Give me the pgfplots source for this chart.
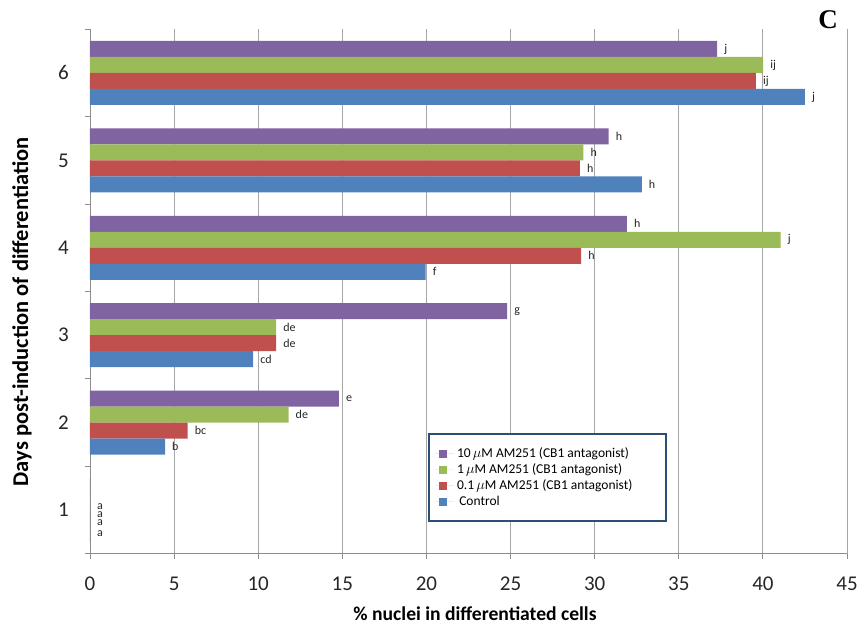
\documentclass[border=0pt]{standalone}
\usepackage{fontspec}
\setmainfont{Carlito}
\newfontfamily\timesfont{Liberation Serif}
\usepackage{pgfplots}
\usepackage{pgfplotstable}
\pgfplotsset{compat=1.18}

\definecolor{cblue}{HTML}{4F81BD}
\definecolor{cred}{HTML}{C0504D}
\definecolor{cgreen}{HTML}{9BBB59}
\definecolor{cpurple}{HTML}{8064A2}
\definecolor{axgray}{HTML}{8C8C8C}
\definecolor{gridgray}{HTML}{A6A6A6}
\definecolor{legblue}{HTML}{2C4D75}

% day, value, significance letter, vertical label offset (pt)
\pgfplotstableread{
day val lab dy
1 0     a 0
2 4.46  b 0
3 9.7   cd 0
4 19.95 f 0
5 32.8  h 0
6 42.5  j 0
}\control
\pgfplotstableread{
day val lab dy
1 0     a -5
2 5.8   bc 0
3 11.07 de 0
4 29.2  h 0
5 29.12 h 0
6 39.58 ij 0
}\lowdose
\pgfplotstableread{
day val lab dy
1 0     a -13
2 11.8  de 0
3 11.07 de 0
4 41.05 j 0
5 29.33 h 0
6 40.02 ij 0
}\middose
\pgfplotstableread{
day val lab dy
1 0     a -21
2 14.8  e 0
3 24.8  g 0
4 31.92 h 0
5 30.83 h 0
6 37.28 j 0
}\highdose

\begin{document}
\begin{tikzpicture}
\begin{axis}[
  at={(0,0)}, anchor=south west,
  scale only axis, width=757pt, height=524.5pt,
  xmin=0, xmax=45, ymin=0.5, ymax=6.5,
  xtick={0,5,...,45}, ytick={1,...,6},
  minor ytick={0.5,1.5,...,6.5},
  axis x line*=bottom, axis y line*=left,
  axis line style={draw=axgray, line width=0.9pt, -},
  xmajorgrids, grid style={draw=gridgray, line width=0.9pt},
  tick align=outside, major tick length=5pt, minor tick length=5pt,
  major y tick style={draw=none},
  minor y tick style={draw=axgray, line width=0.9pt},
  major x tick style={draw=axgray, line width=0.9pt},
  /pgf/number format/assume math mode=true,
  tick label style={font=\fontsize{21}{21}\selectfont, text=black!85},
  xticklabel style={anchor=north, inner sep=0pt, yshift=-18pt},
  yticklabel style={anchor=east, inner sep=0pt, xshift=-16pt},
  xlabel={\textbf{\% nuclei in differentiated cells}},
  xlabel style={font=\fontsize{19.6}{19.6}\selectfont, at={(axis description cs:0.5086,-0.1148)}, anchor=center},
  ylabel={\textbf{Days post-induction of differentiation}},
  ylabel style={font=\fontsize{22.5}{22.5}\selectfont, at={(axis description cs:-0.0898,0.461)}, anchor=center, rotate=0},
  xbar, bar width=0.183,
  point meta=explicit symbolic,
  nodes near coords,
  visualization depends on={\thisrow{dy} \as \dy},
  every node near coord/.append style={anchor=west, inner sep=0pt, xshift=7pt, yshift=\dy pt, font=\fontsize{12}{12}\selectfont, text=black!85},
  legend style={at={(axis description cs:0.4465,0.2302)}, anchor=north west,
    draw=legblue, line width=2pt, fill=white, font=\fontsize{13.5}{13.5}\selectfont,
    inner xsep=6pt, inner ysep=11.5pt, row sep=0pt,
    nodes={inner ysep=1.5pt, inner xsep=3pt, text height=10pt, text depth=3pt, line width=0.4pt}},
  legend cell align=left,
  legend image code/.code={\path (0pt,0pt) -- (19pt,0pt); \fill[#1] (4pt,-4pt) rectangle (12pt,4pt);},
  clip=false,
]
\addplot[fill=cpurple, draw=none, bar shift=0.2745] table[x=val, y=day, meta=lab] {\highdose};
\addplot[fill=cgreen, draw=none, bar shift=0.0915] table[x=val, y=day, meta=lab] {\middose};
\addplot[fill=cred, draw=none, bar shift=-0.0915] table[x=val, y=day, meta=lab] {\lowdose};
\addplot[fill=cblue, draw=none, bar shift=-0.2745] table[x=val, y=day, meta=lab] {\control};
\legend{{10\,$\mu$M AM251 (CB1 antagonist)\hspace*{28pt}},{1\,$\mu$M AM251 (CB1 antagonist)},{0.1\,$\mu$M AM251 (CB1 antagonist)},{\,Control}}
\node[font=\timesfont\bfseries\fontsize{27}{27}\selectfont, anchor=center] at (axis description cs:0.975,1.0176) {C};
\end{axis}
\pgfresetboundingbox
\path (-90pt,-74.25pt) rectangle (769pt,553.75pt);
\end{tikzpicture}
\end{document}
